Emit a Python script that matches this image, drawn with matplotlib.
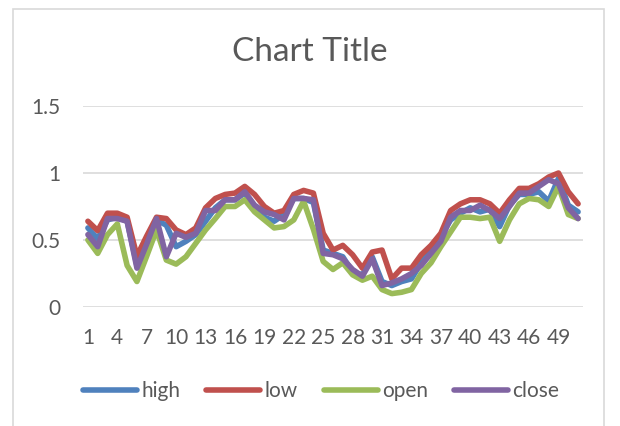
import matplotlib.pyplot as plt
from matplotlib.patches import Rectangle

# values (51 categories)
high = [0.59, 0.51, 0.65, 0.67, 0.64, 0.31, 0.50, 0.65, 0.61, 0.45,
        0.49, 0.54, 0.64, 0.74, 0.80, 0.80, 0.85, 0.75, 0.67, 0.64,
        0.69, 0.81, 0.81, 0.78, 0.425, 0.40, 0.375, 0.26, 0.24, 0.375,
        0.19, 0.16, 0.19, 0.21, 0.33, 0.425, 0.525, 0.65, 0.70, 0.74,
        0.71, 0.73, 0.60, 0.76, 0.84, 0.84, 0.86, 0.79, 0.96, 0.76, 0.71]
low = [0.64, 0.57, 0.70, 0.70, 0.67, 0.38, 0.53, 0.67, 0.66, 0.575,
       0.54, 0.59, 0.74, 0.81, 0.84, 0.85, 0.90, 0.84, 0.75, 0.70,
       0.72, 0.84, 0.87, 0.85, 0.55, 0.425, 0.46, 0.39, 0.29, 0.41,
       0.425, 0.21, 0.29, 0.29, 0.39, 0.46, 0.55, 0.72, 0.77, 0.80,
       0.80, 0.77, 0.70, 0.80, 0.885, 0.885, 0.92, 0.97, 1.00, 0.86, 0.77]
open_ = [0.50, 0.40, 0.54, 0.62, 0.31, 0.19, 0.38, 0.575, 0.35, 0.32,
         0.375, 0.475, 0.575, 0.66, 0.75, 0.75, 0.80, 0.71, 0.65, 0.59,
         0.60, 0.65, 0.79, 0.58, 0.34, 0.28, 0.33, 0.24, 0.20, 0.23,
         0.13, 0.10, 0.11, 0.13, 0.25, 0.33, 0.45, 0.56, 0.67, 0.67,
         0.66, 0.67, 0.49, 0.65, 0.77, 0.81, 0.80, 0.75, 0.90, 0.69, 0.66]
close = [0.54, 0.45, 0.66, 0.66, 0.64, 0.29, 0.47, 0.66, 0.375, 0.55,
         0.52, 0.55, 0.72, 0.72, 0.80, 0.80, 0.86, 0.76, 0.71, 0.69,
         0.65, 0.81, 0.81, 0.80, 0.40, 0.39, 0.36, 0.28, 0.23, 0.36,
         0.16, 0.18, 0.21, 0.25, 0.31, 0.40, 0.49, 0.67, 0.72, 0.72,
         0.76, 0.72, 0.66, 0.75, 0.85, 0.85, 0.90, 0.95, 0.92, 0.74, 0.66]
x = list(range(1, len(high) + 1))

series = [("high", high, "#4F81BD"), ("low", low, "#C0504D"),
          ("open", open_, "#9BBB59"), ("close", close, "#8064A2")]

plt.rcParams['font.family'] = ['Lato', 'DejaVu Sans']
txt = "#595959"

fig = plt.figure(figsize=(6.2, 4.26), dpi=100)
fig.patches.append(Rectangle((13 / 620, -0.1), 591 / 620, 1.1 - 9 / 426,
                             transform=fig.transFigure, fill=False,
                             edgecolor="#d9d9d9", linewidth=1.2))
ax = fig.add_axes([83 / 620, (426 - 307) / 426, 500 / 620, 201 / 426])

for name, vals, col in series:
    ax.plot(x, vals, color=col, lw=4.0, label=name,
            solid_joinstyle='round', solid_capstyle='round')

ax.set_xlim(0.5, len(x) + 0.5)
ax.set_ylim(0, 1.5)
ax.set_yticks([0, 0.5, 1, 1.5])
ax.set_yticklabels(["0", "0.5", "1", "1.5"])
ax.set_xticks(x[::3])
ax.grid(axis='y', color="#d9d9d9", lw=1.2)
ax.set_axisbelow(True)
for s in ax.spines.values():
    s.set_visible(False)
ax.tick_params(length=0, labelsize=15, labelcolor=txt)
ax.tick_params(axis='y', pad=16)
ax.tick_params(axis='x', pad=15)

fig.text(0.5, 1 - 52 / 426, "Chart Title", ha='center', va='center',
         fontsize=24, color=txt)

fig.legend(loc='center', bbox_to_anchor=(321 / 620, 1 - 391 / 426), ncol=4,
           frameon=False, fontsize=15, labelcolor=txt, handlelength=2.6,
           handletextpad=0.2, columnspacing=1.25)

fig.savefig("out.png", dpi=100)
